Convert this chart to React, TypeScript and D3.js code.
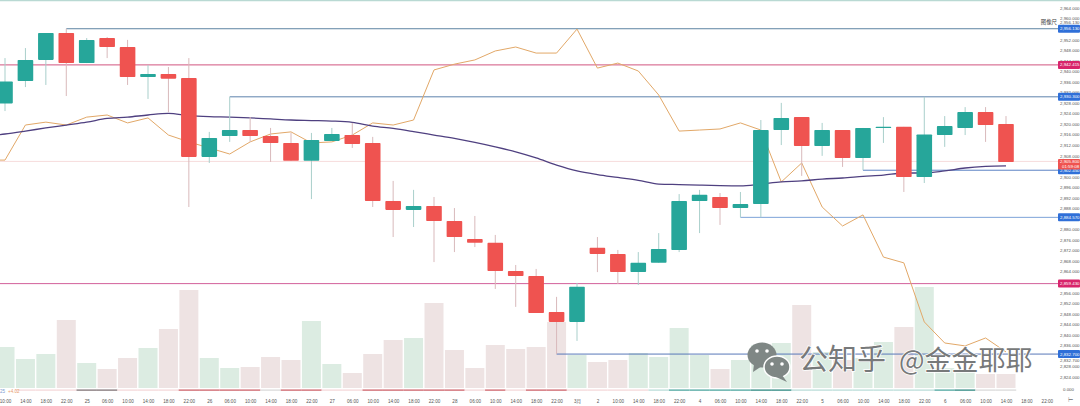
import React, { useEffect, useRef } from 'react';
import * as d3 from 'd3';

const WIDTH = 1080;
const HEIGHT = 406;
const AXIS_X = 1058;

// first entry of every series is the bar just off the left edge
const timeLabels = ['', '10:00', '14:00', '18:00', '22:00', '25', '06:00', '10:00', '14:00', '18:00', '22:00', '26', '06:00', '10:00', '14:00', '18:00', '22:00', '27', '06:00', '10:00', '14:00', '18:00', '22:00', '28', '06:00', '10:00', '14:00', '18:00', '22:00', '3月', '2', '10:00', '14:00', '18:00', '22:00', '4', '06:00', '10:00', '14:00', '18:00', '22:00', '5', '06:00', '10:00', '14:00', '18:00', '22:00', '6', '06:00', '10:00', '14:00', '18:00', '22:00'];

const opens = [2920.0, 2927.8, 2936.3, 2944.3, 2954.5, 2943.1, 2952.6, 2949.2, 2937.8, 2939.0, 2937.4, 2907.5, 2915.4, 2917.7, 2915.4, 2912.8, 2906.0, 2913.5, 2915.8, 2912.8, 2890.8, 2887.4, 2888.9, 2883.2, 2876.4, 2874.9, 2864.2, 2862.3, 2848.7, 2844.9, 2873.0, 2870.7, 2863.8, 2867.3, 2872.2, 2890.8, 2892.3, 2888.1, 2889.6, 2917.7, 2922.6, 2911.6, 2917.7, 2907.1, 2918.5, 2918.9, 2899.9, 2915.8, 2918.5, 2924.5, 2920.0];
const closes = [2923.0, 2936.1, 2944.3, 2954.5, 2943.1, 2951.9, 2949.2, 2937.8, 2939.0, 2937.2, 2907.5, 2914.7, 2917.7, 2915.4, 2912.8, 2906.0, 2913.9, 2916.2, 2912.4, 2890.8, 2887.4, 2888.9, 2883.2, 2877.1, 2874.9, 2864.2, 2862.3, 2848.3, 2844.9, 2858.2, 2870.7, 2863.8, 2867.3, 2872.6, 2890.8, 2893.1, 2888.1, 2889.6, 2917.7, 2922.3, 2911.6, 2917.7, 2907.1, 2918.5, 2918.9, 2899.9, 2916.0, 2919.2, 2924.5, 2919.6, 2905.6];
const highs = [2925.0, 2945.0, 2948.8, 2954.5, 2956.13, 2952.6, 2953.0, 2951.9, 2942.4, 2941.6, 2945.0, 2917.0, 2930.3, 2922.6, 2918.5, 2916.6, 2916.6, 2918.5, 2920.4, 2915.1, 2898.4, 2895.0, 2892.3, 2888.1, 2885.1, 2877.9, 2866.5, 2865.0, 2854.4, 2859.7, 2877.1, 2872.2, 2871.4, 2878.6, 2893.4, 2895.0, 2893.8, 2894.2, 2921.5, 2928.0, 2922.6, 2920.4, 2917.7, 2918.5, 2922.6, 2918.9, 2930.3, 2923.0, 2926.4, 2926.4, 2923.0];
const lows = [2919.0, 2924.9, 2934.0, 2934.8, 2930.6, 2943.1, 2945.0, 2934.8, 2929.5, 2924.5, 2888.5, 2905.2, 2913.2, 2913.2, 2905.6, 2906.0, 2891.5, 2913.5, 2910.9, 2888.5, 2877.1, 2880.9, 2867.6, 2871.4, 2873.3, 2857.4, 2850.6, 2848.3, 2832.7, 2837.7, 2863.8, 2859.3, 2858.9, 2867.3, 2871.4, 2878.6, 2881.7, 2884.57, 2884.57, 2912.0, 2900.3, 2907.9, 2903.7, 2902.45, 2912.8, 2894.2, 2897.6, 2911.3, 2915.8, 2913.2, 2905.6];
const volumes = [38, 41, 29, 34, 68, 25, 19, 30, 40, 59, 98, 30, 20, 21, 31, 28, 67, 24, 15, 34, 48, 50, 85, 38, 20, 43, 39, 41, 66, 33, 26, 28, 35, 31, 60, 33, 19, 28, 43, 45, 83, 36, 28, 30, 46, 61, 101, 20, 16, 14, 14];
const fastLine = [2906.3, 2906.3, 2919.6, 2920.7, 2919.6, 2922.6, 2923.4, 2920.4, 2922.3, 2915.8, 2913.2, 2910.9, 2908.6, 2913.2, 2916.2, 2917.0, 2912.8, 2913.2, 2915.8, 2920.4, 2919.6, 2921.5, 2940.5, 2942.7, 2944.3, 2947.7, 2949.2, 2946.9, 2946.9, 2956.0, 2941.2, 2943.1, 2940.1, 2931.0, 2917.3, 2917.7, 2918.1, 2920.4, 2917.7, 2898.0, 2905.2, 2888.5, 2881.3, 2885.5, 2869.5, 2867.3, 2844.9, 2836.9, 2835.8, 2838.8, 2833.5];
const slowLine = [2915.4, 2916.2, 2917.3, 2918.5, 2919.6, 2920.7, 2922.1, 2922.6, 2923.4, 2924.0, 2923.2, 2922.8, 2922.6, 2922.3, 2921.9, 2921.5, 2921.3, 2921.1, 2920.6, 2919.2, 2918.3, 2917.1, 2915.8, 2914.5, 2913.0, 2911.3, 2909.4, 2907.1, 2904.4, 2902.2, 2900.8, 2899.7, 2898.6, 2897.2, 2897.0, 2896.8, 2896.6, 2896.5, 2897.2, 2898.0, 2898.4, 2899.1, 2899.5, 2900.1, 2900.6, 2901.4, 2901.4, 2902.2, 2903.3, 2903.9, 2904.1];
const stripTones = ['', '', 'pink', 'pink', 'pink', 'grey', 'grey', 'pink', 'pink', 'pink', 'red', 'red', 'red', 'red', 'pale', 'red', 'red', 'pink', 'pink', 'red', 'red', 'red', 'red', 'red', 'pink', 'red', 'pink', 'red', 'red', 'pink', 'pink', 'pink', 'pink', 'mint', 'teal', 'teal', 'teal', 'teal', 'deep', 'deep', 'mint', 'mint', 'mint', 'mint', 'mint', 'mint', 'mint', 'teal', 'deep', 'pale', 'pale'];

const levelPrices = [2956.13, 2942.415, 2930.3, 2902.45, 2884.57, 2859.43, 2832.7];
const levelStarts = [4, 0, 12, 43, 37, 0, 28];
const levelColors = ['#5d84a3', '#d2547f', '#5e82ad', '#5b82c4', '#7ea3d8', '#d2609a', '#5878b8'];
const levelTags = ['#2f6fd8', '#d8256b', '#2f6fd8', '#2f6fd8', '#2f6fd8', '#d8256b', '#2f6fd8'];
const lastPrice = 2905.8;
const countdown = '01:59:08';
// ticks sitting right under a price tag are not drawn
const hiddenTicks = [2956, 2904, 2884, 2860, 2832];
const priceTicks = d3.range(2824, 2965, 4).filter(d => !hiddenTicks.includes(d));
const toneColors: Record<string, string> = {
  pink: '#f4d6d8',
  red: '#c9565f',
  grey: '#77696c',
  pale: '#d8d8d8',
  mint: '#b5dbd6',
  teal: '#3f9f97',
  deep: '#1d7f77'
};

const UP = '#26a69a';
const DOWN = '#ef5350';
const FONT = '"Liberation Sans", Arial, sans-serif';
const PRICE_SIZE = '4.4px';
const TIME_SIZE = '4.6px';

export default function App() {
  const svgRef = useRef<SVGSVGElement>(null);

  useEffect(() => {
    if (!svgRef.current) return;

    const svg = d3.select(svgRef.current);
    svg.selectAll('*').remove();

    const bars = d3.range(opens.length);
    const xScale = d3.scaleLinear().domain([1, 50]).range([5, 1006]);
    const yScale = d3.scaleLinear().domain([2824, 2964]).range([377, 8]);
    const volScale = d3.scaleLinear().domain([0, 100]).range([388, 288]);
    const step = xScale(1) - xScale(0);
    const bodyWidth = 15.6;
    const volWidth = 19;
    const isUp = (i: number) => closes[i] >= opens[i];

    svg.append('defs').append('clipPath').attr('id', 'plot-clip')
      .append('rect').attr('width', AXIS_X).attr('height', HEIGHT);

    // top edge of the pane
    svg.append('line')
      .attr('x1', 0).attr('x2', WIDTH).attr('y1', 0.5).attr('y2', 0.5)
      .attr('stroke', '#b9d9d3').attr('stroke-width', 1.5);

    const plot = svg.append('g').attr('clip-path', 'url(#plot-clip)');

    // Volume
    plot.append('g').selectAll('rect').data(bars).join('rect')
      .attr('x', i => xScale(i) - volWidth / 2)
      .attr('y', i => volScale(volumes[i]))
      .attr('width', volWidth)
      .attr('height', i => volScale(0) - volScale(volumes[i]))
      .attr('fill', i => (isUp(i) ? '#dcece2' : '#eee3e3'));

    // Indicator strip under the volume
    plot.append('g').selectAll('rect').data(bars.filter(i => stripTones[i])).join('rect')
      .attr('x', i => xScale(i) - step / 2)
      .attr('y', 389.5)
      .attr('width', step)
      .attr('height', 1.2)
      .attr('fill', i => toneColors[stripTones[i]]);

    // Last price line
    plot.append('line')
      .attr('x1', 0).attr('x2', AXIS_X)
      .attr('y1', yScale(lastPrice)).attr('y2', yScale(lastPrice))
      .attr('stroke', '#f6dcdc').attr('stroke-width', 1);

    // Level lines
    plot.append('g').selectAll('line').data(levelPrices).join('line')
      .attr('x1', (d, i) => xScale(levelStarts[i]))
      .attr('x2', AXIS_X)
      .attr('y1', d => yScale(d))
      .attr('y2', d => yScale(d))
      .attr('stroke', (d, i) => levelColors[i])
      .attr('stroke-width', 1);

    // Moving averages
    const fast = d3.line<number>()
      .x(i => xScale(i))
      .y(i => yScale(fastLine[i]));
    const slow = d3.line<number>()
      .x(i => xScale(i))
      .y(i => yScale(slowLine[i]))
      .curve(d3.curveMonotoneX);

    plot.append('path').datum(bars)
      .attr('fill', 'none').attr('stroke', '#e2a868').attr('stroke-width', 1)
      .attr('d', fast);
    plot.append('path').datum(bars)
      .attr('fill', 'none').attr('stroke', '#4f4080').attr('stroke-width', 1.3)
      .attr('d', slow);

    // Candles
    const candles = plot.append('g').selectAll('g').data(bars).join('g');
    candles.append('line')
      .attr('x1', i => xScale(i)).attr('x2', i => xScale(i))
      .attr('y1', i => yScale(highs[i])).attr('y2', i => yScale(lows[i]))
      .attr('stroke', i => (isUp(i) ? '#a9cfcb' : '#d9b9bb'))
      .attr('stroke-width', 1);
    candles.append('rect')
      .attr('x', i => xScale(i) - bodyWidth / 2)
      .attr('y', i => yScale(Math.max(opens[i], closes[i])))
      .attr('width', bodyWidth)
      .attr('height', i => Math.max(1, Math.abs(yScale(opens[i]) - yScale(closes[i]))))
      .attr('rx', 0.8)
      .attr('fill', i => (isUp(i) ? UP : DOWN));

    // Price axis
    svg.append('g')
      .attr('class', 'price-axis')
      .attr('transform', `translate(${AXIS_X + 2},0)`)
      .call(d3.axisRight(yScale).tickValues(priceTicks).tickFormat(d3.format(',.3f')).tickSize(0).tickPadding(0))
      .call(g => g.select('.domain').remove());
    svg.append('text')
      .attr('x', AXIS_X + 5).attr('y', 390)
      .attr('dy', '0.32em').attr('class', 'axis-extra')
      .text('0.000');

    // Time axis
    svg.append('g')
      .attr('class', 'time-axis')
      .attr('transform', 'translate(0,398)')
      .call(d3.axisBottom(xScale)
        .tickValues(d3.range(1, timeLabels.length))
        .tickFormat(d => timeLabels[+d])
        .tickSize(0)
        .tickPadding(2))
      .call(g => g.select('.domain').remove());

    svg.selectAll('.price-axis .tick text, .axis-extra')
      .attr('fill', '#555')
      .attr('font-size', PRICE_SIZE)
      .attr('font-family', FONT);
    svg.selectAll('.time-axis .tick text')
      .attr('fill', '#555')
      .attr('font-size', TIME_SIZE)
      .attr('font-family', '"Liberation Sans", "Noto Sans CJK SC", sans-serif');

    // Price tags
    svg.append('text')
      .attr('x', 1057).attr('y', 22.5).attr('dy', '0.32em')
      .attr('text-anchor', 'end')
      .attr('font-size', '5.4px').attr('font-family', '"Noto Sans CJK SC"').attr('fill', '#444')
      .text('图像尺');
    svg.append('text')
      .attr('x', AXIS_X + 2).attr('y', 22.5).attr('dy', '0.32em')
      .attr('font-size', PRICE_SIZE).attr('font-family', FONT).attr('fill', '#555')
      .text('2,956.130');
    svg.append('text')
      .attr('x', AXIS_X + 2).attr('y', 360.5).attr('dy', '0.32em')
      .attr('font-size', PRICE_SIZE).attr('font-family', FONT).attr('fill', '#555')
      .text('2,832.700');

    const tags = svg.append('g').selectAll('g').data(levelPrices).join('g')
      .attr('transform', d => `translate(${AXIS_X},${yScale(d)})`);
    tags.append('rect')
      .attr('y', -4).attr('width', WIDTH - AXIS_X).attr('height', 8).attr('rx', 1)
      .attr('fill', (d, i) => levelTags[i]);
    tags.append('text')
      .attr('x', 2).attr('dy', '0.34em')
      .attr('font-size', PRICE_SIZE).attr('font-family', FONT).attr('fill', '#fff')
      .text(d => d3.format(',.3f')(d));

    const lastTag = svg.append('g')
      .attr('transform', `translate(${AXIS_X},${yScale(lastPrice)})`);
    lastTag.append('rect')
      .attr('y', -2.5).attr('width', WIDTH - AXIS_X).attr('height', 10.5).attr('rx', 1)
      .attr('fill', DOWN);
    lastTag.append('text')
      .attr('x', 2).attr('y', 0.2).attr('dy', '0.34em')
      .attr('font-size', PRICE_SIZE).attr('font-family', FONT).attr('fill', '#fff')
      .text(d3.format(',.3f')(lastPrice));
    lastTag.append('text')
      .attr('x', 4).attr('y', 5).attr('dy', '0.34em')
      .attr('font-size', PRICE_SIZE).attr('font-family', FONT).attr('fill', '#fff')
      .text(countdown);

    // Volume pane values
    svg.append('text')
      .attr('x', 0).attr('y', 393)
      .attr('font-size', TIME_SIZE).attr('font-family', FONT).attr('fill', '#7d9bd0')
      .text('25');
    svg.append('text')
      .attr('x', 8).attr('y', 393)
      .attr('font-size', TIME_SIZE).attr('font-family', FONT).attr('fill', '#e8a070')
      .text('+4.02');

    // Time axis end icon
    svg.append('text')
      .attr('x', 1070).attr('y', 402)
      .attr('text-anchor', 'middle')
      .attr('font-size', '6px').attr('font-family', FONT).attr('fill', '#888')
      .text('⊢');

    // Watermark
    const mark = svg.append('g');
    const bubbleColor = '#7f8785';
    mark.append('ellipse')
      .attr('cx', 762).attr('cy', 355).attr('rx', 14.5).attr('ry', 12.5)
      .attr('fill', bubbleColor);
    mark.append('path')
      .attr('d', 'M754 364 L753 372 L762 366 Z')
      .attr('fill', bubbleColor);
    mark.append('ellipse')
      .attr('cx', 777).attr('cy', 367).attr('rx', 13).attr('ry', 11)
      .attr('fill', bubbleColor).attr('stroke', '#fff').attr('stroke-width', 1.5);
    mark.append('path')
      .attr('d', 'M782 375 L787 382 L776 377 Z')
      .attr('fill', bubbleColor);
    [[757, 351], [767, 351], [772, 364], [782, 364]].forEach(([cx, cy]) => {
      mark.append('circle')
        .attr('cx', cx).attr('cy', cy).attr('r', 1.8).attr('fill', '#fff');
    });
    mark.append('text')
      .attr('x', 799).attr('y', 370)
      .attr('font-size', '29px').attr('font-family', '"Noto Sans CJK SC"')
      .attr('fill', '#77797a').attr('stroke', '#fff').attr('stroke-width', 1.5)
      .attr('paint-order', 'stroke')
      .text('公知乎');
    mark.append('text')
      .attr('x', 899).attr('y', 370)
      .attr('font-size', '27px').attr('font-family', '"Noto Sans CJK SC"')
      .attr('fill', '#77797a').attr('stroke', '#fff').attr('stroke-width', 1.5)
      .attr('paint-order', 'stroke')
      .text('@金金耶耶');
  }, []);

  return (
    <div style={{ position: 'fixed', left: 0, top: 0 }}>
      <svg ref={svgRef} width={WIDTH} height={HEIGHT} style={{ display: 'block', background: '#fff' }} />
    </div>
  );
}
